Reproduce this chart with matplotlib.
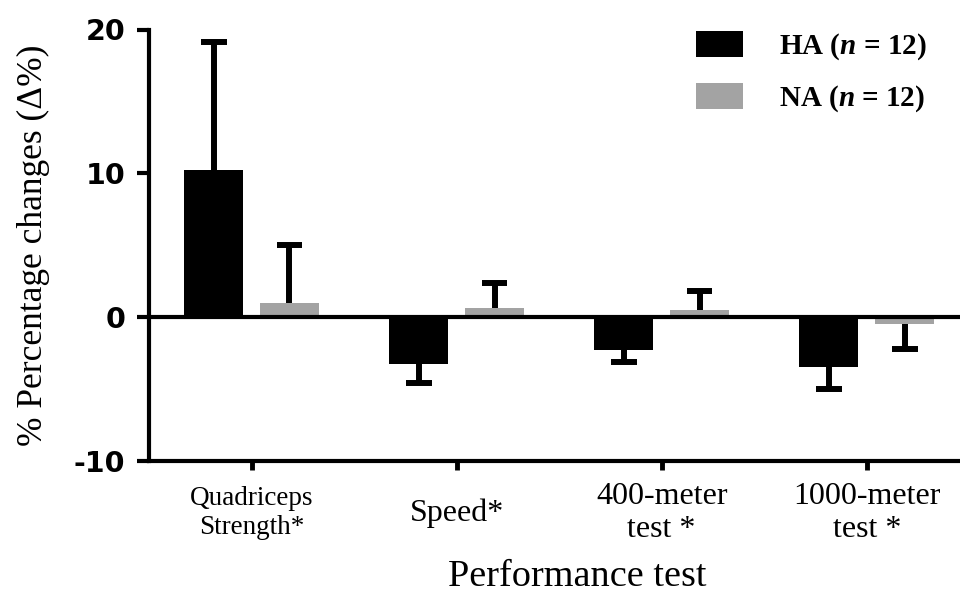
import numpy as np
import matplotlib
matplotlib.use("Agg")
import matplotlib.pyplot as plt

plt.rcParams["mathtext.fontset"] = "custom"
plt.rcParams["mathtext.it"] = "Liberation Serif:italic:bold"
plt.rcParams["mathtext.rm"] = "Liberation Serif:bold"

categories = ["Quadriceps\nStrength*", "Speed*", "400-meter\ntest *", "1000-meter\ntest *"]
ha_mean = [10.2, -3.3, -2.3, -3.5]
ha_err = [8.9, 1.3, 0.85, 1.5]
na_mean = [1.0, 0.65, 0.47, -0.5]
na_err = [4.0, 1.7, 1.35, 1.7]
series_labels = ["HA ($n$ = 12)", "NA ($n$ = 12)"]
yticks = [-10, 0, 10, 20]

HA_COLOR = "#000000"
NA_COLOR = "#a3a3a3"

fig = plt.figure(figsize=(9.6, 5.94), dpi=100)
ax = fig.add_axes([149 / 960, (594 - 460.7) / 594, 1 - 149 / 960, (460.7 - 29.5) / 594])

x = np.arange(len(categories))
width = 0.288
offset = 0.185
cap_half = 0.063

b1 = ax.bar(x - offset, ha_mean, width, color=HA_COLOR, label=series_labels[0], zorder=2)
b2 = ax.bar(x + offset, na_mean, width, color=NA_COLOR, label=series_labels[1], zorder=2)

for xs, means, errs in [(x - offset, ha_mean, ha_err), (x + offset, na_mean, na_err)]:
    means = np.array(means)
    errs = np.array(errs)
    tips = means + np.sign(means) * errs
    ax.vlines(xs, means, tips, color="black", lw=4.3, zorder=3)
    ax.hlines(tips, xs - cap_half, xs + cap_half, color="black", lw=4.3, zorder=3)

ax.axhline(0, color="black", lw=3, zorder=4)

ax.set_xlim(-0.5, 3.455)
ax.set_ylim(-10, 20)
ax.set_yticks(yticks)
ax.set_yticklabels([str(t) for t in yticks], fontfamily="DejaVu Sans", fontweight="bold", fontsize=20.5)
ax.set_xticks(x)
ax.set_xticklabels(categories, fontfamily="Liberation Serif", va="center")
for i, lab in enumerate(ax.get_xticklabels()):
    lab.set_fontsize(19.5 if i == 0 else 23)

for s in ["top", "right"]:
    ax.spines[s].set_visible(False)
for s in ["left", "bottom"]:
    ax.spines[s].set_linewidth(3)
ax.tick_params(axis="y", length=9, width=3, pad=8)
ax.tick_params(axis="x", length=6.5, width=3.5, pad=31)

ax.set_xlabel("Performance test", fontfamily="Liberation Serif", fontsize=27.5, labelpad=11, x=0.528)
ax.set_ylabel("% Percentage changes (Δ%)", fontfamily="Liberation Serif", fontsize=25.5, labelpad=17)

leg = ax.legend(handles=[b1, b2], loc="upper left", bbox_to_anchor=(696 / 960, (594 - 31) / 594),
                bbox_transform=fig.transFigure, frameon=False, borderpad=0, borderaxespad=0,
                handlelength=1.6, handleheight=0.97, handletextpad=1.24, labelspacing=0.72,
                prop={"family": "Liberation Serif", "weight": "bold", "size": 21})

fig.savefig("out.png", dpi=100)
